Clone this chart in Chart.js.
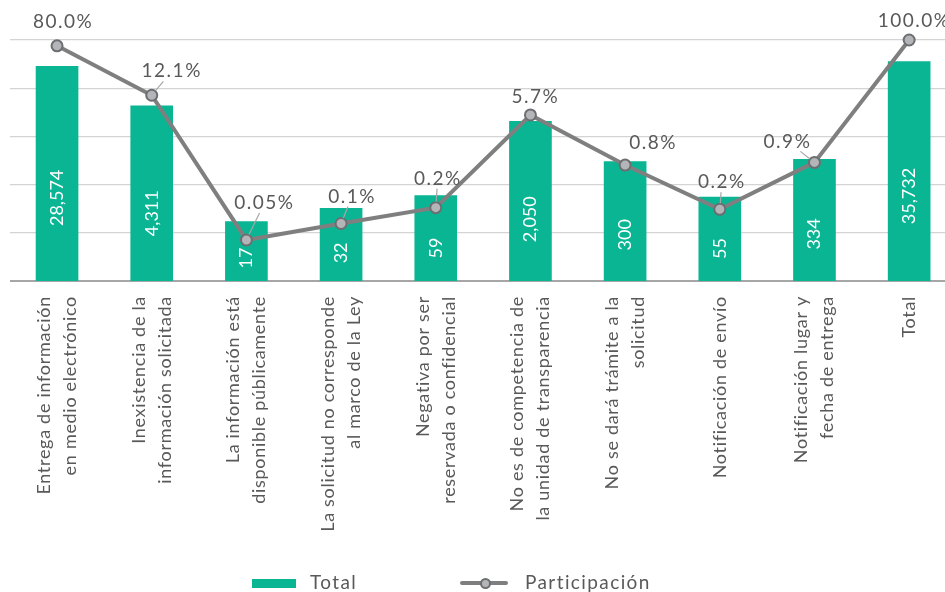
<!DOCTYPE html>
<html>
<head>
<meta charset="utf-8">
<script src="https://cdn.jsdelivr.net/npm/chart.js@4.4.1/dist/chart.umd.min.js"></script>
<style>
  html, body { margin: 0; padding: 0; background: #fff; overflow: hidden; width: 945px; height: 592px; }
  #wrap { position: relative; width: 964px; height: 592px; }
  #chart { display: block; }
  .lg { position: absolute; font-family: Lato, 'Noto Sans', sans-serif; font-size: 19px; line-height: 19px; letter-spacing: 1.4px; color: #595959; white-space: nowrap; }
  .lg-box { position: absolute; left: 252px; top: 579px; width: 44px; height: 9px; background: #0ab594; }
  .lg-line { position: absolute; left: 460px; top: 581px; width: 48px; height: 4px; border-radius: 2px; background: #7f7f7f; }
  .lg-dot { position: absolute; left: 479.5px; top: 577.5px; width: 11px; height: 11px; box-sizing: border-box; border: 2px solid #6d6e71; border-radius: 50%; background: #b4b5b8; }
</style>
</head>
<body>
<div id="wrap">
  <canvas id="chart" width="964" height="592"></canvas>
  <div class="lg-box"></div>
  <div class="lg" style="left:310px; top:572px;">Total</div>
  <div class="lg-line"></div>
  <div class="lg-dot"></div>
  <div class="lg" style="left:525px; top:572px;">Participación</div>
</div>
<script>
// ---- Data ----
const categories = [
  ['Entrega de información', 'en medio electrónico'],
  ['Inexistencia de la', 'información solicitada'],
  ['La información está', 'disponible públicamente'],
  ['La solicitud no corresponde', 'al marco de la Ley'],
  ['Negativa por ser', 'reservada o confidencial'],
  ['No es de competencia de', 'la unidad de transparencia'],
  ['No se dará trámite a la', 'solicitud'],
  ['Notificación de envío'],
  ['Notificación lugar y', 'fecha de entrega'],
  ['Total']
];
const totals = [28574, 4311, 17, 32, 59, 2050, 300, 55, 334, 35732];
const participacion = [80.0, 12.1, 0.048, 0.09, 0.165, 5.7, 0.84, 0.155, 0.93, 100.0];
const participacionLabels = ['80.0%', '12.1%', '0.05%', '0.1%', '0.2%', '5.7%', '0.8%', '0.2%', '0.9%', '100.0%'];
const totalTicks = [1, 10, 100, 1000, 10000, 100000];

const FONT = "Lato, 'Noto Sans', sans-serif";

const overlay = {
  id: 'overlay',
  afterDatasetDraw(chart, args, opts) {
    if (args.index !== 0) return;
    const ctx = chart.ctx;
    ctx.save();
    ctx.font = '18px ' + FONT;
    ctx.fillStyle = '#ffffff';
    ctx.textAlign = 'center';
    ctx.textBaseline = 'middle';
    args.meta.data.forEach((bar, i) => {
      const h = bar.base - bar.y;
      const cy = bar.base - h * opts.barLabelFrac;
      ctx.save();
      ctx.translate(bar.x, cy);
      ctx.rotate(-Math.PI / 2);
      ctx.fillText(totals[i].toLocaleString('en-US'), 0, 0);
      ctx.restore();
    });
    ctx.restore();
  },
  afterDatasetsDraw(chart, args, opts) {
    const ctx = chart.ctx;
    const meta = chart.getDatasetMeta(1);
    // leader lines
    ctx.save();
    ctx.strokeStyle = '#a6a6a6';
    ctx.lineWidth = 1.2;
    meta.data.forEach((pt, i) => {
      if (!opts.leaders[i]) return;
      const [dx, dy] = opts.offsets[i];
      const len = Math.hypot(dx, dy);
      const sx = pt.x + dx * 6 / len, sy = pt.y + dy * 6 / len;
      const t = (dy + 10) / dy;
      ctx.beginPath();
      ctx.moveTo(sx, sy);
      ctx.lineTo(pt.x + dx * t, pt.y + dy * t);
      ctx.stroke();
    });
    ctx.restore();
    // percentage labels
    ctx.save();
    ctx.font = '19px ' + FONT;
    try { ctx.letterSpacing = '1.5px'; } catch (e) {}
    ctx.fillStyle = '#595959';
    ctx.textAlign = 'center';
    ctx.textBaseline = 'middle';
    meta.data.forEach((pt, i) => {
      const [dx, dy] = opts.offsets[i];
      ctx.fillText(participacionLabels[i], pt.x + dx, pt.y + dy);
    });
    ctx.restore();
    // category labels
    const xs = chart.scales.x;
    const area = chart.chartArea;
    ctx.save();
    ctx.font = '18px ' + FONT;
    try { ctx.letterSpacing = '0.7px'; } catch (e) {}
    ctx.fillStyle = '#595959';
    ctx.textAlign = 'right';
    ctx.textBaseline = 'middle';
    categories.forEach((lines, i) => {
      const px = xs.getPixelForValue(i);
      const n = lines.length;
      lines.forEach((line, j) => {
        const x = px + (j - (n - 1) / 2) * opts.lineHeight;
        ctx.save();
        ctx.translate(x, area.bottom + opts.labelGap);
        ctx.rotate(-Math.PI / 2);
        ctx.fillText(line, 0, 0);
        ctx.restore();
      });
    });
    ctx.restore();
  }
};

new Chart(document.getElementById('chart'), {
  data: {
    labels: categories,
    datasets: [
      {
        type: 'bar',
        label: 'Total',
        data: totals,
        yAxisID: 'y',
        backgroundColor: '#0ab594',
        borderWidth: 0,
        barThickness: 42,
        order: 2
      },
      {
        type: 'line',
        label: 'Participación',
        data: participacion,
        yAxisID: 'y1',
        borderColor: '#7f7f7f',
        borderWidth: 4,
        pointRadius: 5.5,
        pointBackgroundColor: '#b4b5b8',
        pointBorderColor: '#6d6e71',
        pointBorderWidth: 2,
        tension: 0,
        clip: false,
        order: 1
      }
    ]
  },
  options: {
    responsive: false,
    animation: false,
    layout: { padding: { left: 9.7, right: 0.5, top: 40, bottom: 0 } },
    plugins: {
      legend: { display: false },
      tooltip: { enabled: false },
      overlay: {
        barLabelFrac: 0.387,
        lineHeight: 26,
        labelGap: 15,
        leaders: [false, true, true, true, true, false, false, true, true, false],
        offsets: [[6, -24], [20, -24], [18, -37], [11, -27], [2, -29], [5, -18], [28, -22], [2, -27], [-27, -21], [5, -19]]
      }
    },
    scales: {
      x: {
        type: 'category',
        offset: true,
        grid: { display: false, drawTicks: false },
        border: { display: false },
        ticks: { display: false },
        afterFit(scale) { scale.height = 311; }
      },
      y: {
        type: 'logarithmic',
        position: 'left',
        min: 1,
        max: 100000,
        afterBuildTicks(scale) { scale.ticks = totalTicks.map(v => ({ value: v })); },
        afterFit(scale) { scale.width = 0; },
        ticks: { display: false },
        border: { display: false },
        grid: {
          drawTicks: false,
          color: (c) => (c.tick && c.tick.value === 1) ? '#a6a6a6' : '#d4d4d4',
          lineWidth: (c) => (c.tick && c.tick.value === 1) ? 2 : 1.3
        }
      },
      y1: {
        type: 'logarithmic',
        position: 'right',
        min: 0.01,
        max: 100,
        display: false
      }
    }
  },
  plugins: [overlay]
});
</script>
</body>
</html>
